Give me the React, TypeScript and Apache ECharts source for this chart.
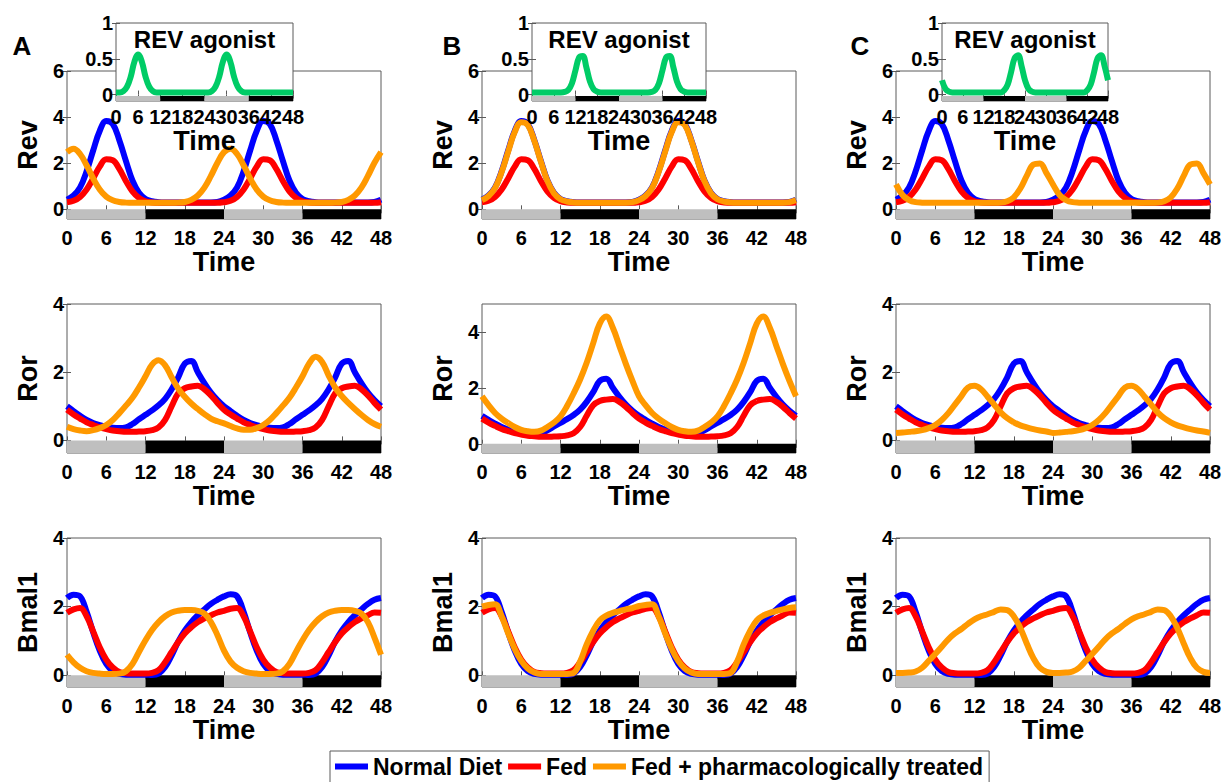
import React, { useEffect, useRef } from 'react';
import * as echarts from 'echarts';

// ---------- data ----------
const hours = [
  0, 1, 2, 3, 4, 5, 6, 7, 8, 9, 10, 11,
  12, 13, 14, 15, 16, 17, 18, 19, 20, 21, 22, 23,
  24, 25, 26, 27, 28, 29, 30, 31, 32, 33, 34, 35,
  36, 37, 38, 39, 40, 41, 42, 43, 44, 45, 46, 47,
  48,
];
// inset tick labels are split in two interleaved sets so that none is dropped
const insetLabelsEven = [0, 12, 24, 36, 48];
const insetLabelsOdd = [6, 18, 30, 42];
// [start, end, phase] phase 0 = light (grey), 1 = dark (black)
const lightDarkPhases = [
  [0, 12, 0],
  [12, 24, 1],
  [24, 36, 0],
  [36, 48, 1],
];
const seriesNames = ['Normal Diet', 'Fed', 'Fed + pharmacologically treated'];

// Rev
const revNormal = [
  0.42, 0.6, 0.95, 1.65, 2.55, 3.4, 3.83, 3.7, 3.0, 2.1, 1.25, 0.72,
  0.45, 0.35, 0.31, 0.3, 0.3, 0.3, 0.3, 0.3, 0.3, 0.3, 0.3, 0.32,
  0.42, 0.6, 0.95, 1.65, 2.55, 3.4, 3.83, 3.7, 3.0, 2.1, 1.25, 0.72,
  0.45, 0.35, 0.31, 0.3, 0.3, 0.3, 0.3, 0.3, 0.3, 0.3, 0.3, 0.32,
  0.42,
];
const revFed = [
  0.31, 0.37, 0.54, 0.86, 1.34, 1.85, 2.17, 2.13, 1.75, 1.23, 0.78, 0.5,
  0.35, 0.3, 0.28, 0.28, 0.28, 0.28, 0.28, 0.28, 0.28, 0.28, 0.28, 0.28,
  0.31, 0.37, 0.54, 0.86, 1.34, 1.85, 2.17, 2.13, 1.75, 1.23, 0.78, 0.5,
  0.35, 0.3, 0.28, 0.28, 0.28, 0.28, 0.28, 0.28, 0.28, 0.28, 0.28, 0.28,
  0.31,
];
const revTreatedA = [
  2.48, 2.63, 2.4, 1.91, 1.34, 0.86, 0.55, 0.39, 0.32, 0.29, 0.28, 0.28,
  0.28, 0.28, 0.28, 0.28, 0.28, 0.29, 0.32, 0.41, 0.6, 0.94, 1.45, 2.02,
  2.48, 2.63, 2.4, 1.91, 1.34, 0.86, 0.55, 0.39, 0.32, 0.29, 0.28, 0.28,
  0.28, 0.28, 0.28, 0.28, 0.28, 0.29, 0.32, 0.41, 0.6, 0.94, 1.45, 2.02,
  2.48,
];
const revTreatedB = [
  0.4, 0.58, 0.93, 1.62, 2.5, 3.35, 3.78, 3.66, 2.97, 2.07, 1.23, 0.7,
  0.44, 0.34, 0.3, 0.29, 0.29, 0.29, 0.29, 0.29, 0.29, 0.29, 0.29, 0.31,
  0.4, 0.58, 0.93, 1.62, 2.5, 3.35, 3.78, 3.66, 2.97, 2.07, 1.23, 0.7,
  0.44, 0.34, 0.3, 0.29, 0.29, 0.29, 0.29, 0.29, 0.29, 0.29, 0.29, 0.31,
  0.4,
];
const revTreatedC = [
  1.08, 0.62, 0.4, 0.31, 0.29, 0.28, 0.28, 0.28, 0.28, 0.28, 0.28, 0.28,
  0.28, 0.28, 0.28, 0.28, 0.29, 0.35, 0.52, 0.9, 1.46, 1.94, 1.99, 1.57,
  1.08, 0.62, 0.4, 0.31, 0.29, 0.28, 0.28, 0.28, 0.28, 0.28, 0.28, 0.28,
  0.28, 0.28, 0.28, 0.28, 0.29, 0.35, 0.52, 0.9, 1.46, 1.94, 1.99, 1.57,
  1.08,
];

// Ror
const rorNormal = [
  1.0, 0.86, 0.72, 0.6, 0.51, 0.45, 0.4, 0.37, 0.36, 0.38, 0.48, 0.62,
  0.75, 0.88, 1.03, 1.22, 1.5, 1.85, 2.25, 2.33, 2.0, 1.68, 1.4, 1.18,
  1.0, 0.86, 0.72, 0.6, 0.51, 0.45, 0.4, 0.37, 0.36, 0.38, 0.48, 0.62,
  0.75, 0.88, 1.03, 1.22, 1.5, 1.85, 2.25, 2.33, 2.0, 1.68, 1.4, 1.18,
  1.0,
];
const rorFed = [
  0.9, 0.76, 0.64, 0.53, 0.45, 0.38, 0.33, 0.29, 0.27, 0.25, 0.25, 0.26,
  0.27, 0.3, 0.38, 0.6, 1.0, 1.38, 1.53, 1.58, 1.6, 1.5, 1.32, 1.1,
  0.9, 0.76, 0.64, 0.53, 0.45, 0.38, 0.33, 0.29, 0.27, 0.25, 0.25, 0.26,
  0.27, 0.3, 0.38, 0.6, 1.0, 1.38, 1.53, 1.58, 1.6, 1.5, 1.32, 1.1,
  0.9,
];
const rorTreatedA = [
  0.4, 0.33, 0.29, 0.27, 0.3, 0.36, 0.45, 0.6, 0.8, 1.02, 1.25, 1.55,
  1.88, 2.22, 2.35, 2.2, 1.85, 1.52, 1.28, 1.08, 0.92, 0.77, 0.64, 0.56,
  0.5, 0.42, 0.35, 0.31, 0.31, 0.36, 0.45, 0.6, 0.8, 1.02, 1.25, 1.55,
  1.88, 2.25, 2.45, 2.3, 1.9, 1.55, 1.3, 1.1, 0.92, 0.75, 0.6, 0.48,
  0.4,
];
const rorTreatedB = [
  1.7, 1.38, 1.1, 0.9, 0.74, 0.6, 0.5, 0.45, 0.43, 0.47, 0.6, 0.76,
  0.98, 1.35, 1.8, 2.3, 2.9, 3.6, 4.3, 4.55, 4.15, 3.5, 2.85, 2.25,
  1.7, 1.38, 1.1, 0.9, 0.74, 0.6, 0.5, 0.45, 0.43, 0.47, 0.6, 0.76,
  0.98, 1.35, 1.8, 2.3, 2.9, 3.6, 4.3, 4.55, 4.15, 3.5, 2.85, 2.25,
  1.7,
];
const rorTreatedC = [
  0.22, 0.23, 0.25, 0.27, 0.3, 0.36, 0.45, 0.6, 0.8, 1.05, 1.3, 1.55,
  1.6, 1.5, 1.28, 1.05, 0.82, 0.65, 0.53, 0.44, 0.38, 0.33, 0.29, 0.26,
  0.22, 0.23, 0.25, 0.27, 0.3, 0.36, 0.45, 0.6, 0.8, 1.05, 1.3, 1.55,
  1.6, 1.5, 1.28, 1.05, 0.82, 0.65, 0.53, 0.44, 0.38, 0.33, 0.29, 0.26,
  0.22,
];

// Bmal1
const bmalNormal = [
  2.25, 2.35, 2.3, 1.85, 1.25, 0.72, 0.33, 0.12, 0.04, 0.02, 0.02, 0.02,
  0.02, 0.01, 0.05, 0.24, 0.58, 0.98, 1.3, 1.55, 1.75, 1.92, 2.08, 2.2,
  2.3, 2.36, 2.3, 1.85, 1.25, 0.72, 0.33, 0.12, 0.04, 0.02, 0.02, 0.02,
  0.02, 0.01, 0.05, 0.24, 0.58, 0.98, 1.3, 1.55, 1.75, 1.92, 2.08, 2.2,
  2.25,
];
const bmalFed = [
  1.82, 1.92, 1.96, 1.72, 1.28, 0.82, 0.46, 0.23, 0.1, 0.06, 0.05, 0.05,
  0.05, 0.07, 0.15, 0.38, 0.68, 0.97, 1.22, 1.4, 1.55, 1.66, 1.75, 1.83,
  1.88, 1.94, 1.96, 1.72, 1.28, 0.82, 0.46, 0.23, 0.1, 0.06, 0.05, 0.05,
  0.05, 0.07, 0.15, 0.38, 0.68, 0.97, 1.22, 1.4, 1.55, 1.66, 1.75, 1.83,
  1.82,
];
const bmalTreatedA = [
  0.6, 0.38, 0.22, 0.12, 0.07, 0.05, 0.04, 0.04, 0.05, 0.12, 0.33, 0.68,
  1.02, 1.32, 1.55, 1.72, 1.83, 1.88, 1.9, 1.9, 1.88, 1.8, 1.55, 1.17,
  0.72, 0.4, 0.22, 0.12, 0.07, 0.05, 0.04, 0.04, 0.05, 0.12, 0.33, 0.68,
  1.02, 1.32, 1.55, 1.72, 1.83, 1.88, 1.9, 1.9, 1.88, 1.8, 1.55, 1.1,
  0.6,
];
const bmalTreatedB = [
  2.0, 2.05, 2.07, 1.72, 1.22, 0.77, 0.42, 0.2, 0.08, 0.04, 0.04, 0.04,
  0.04, 0.04, 0.07, 0.4, 0.9, 1.3, 1.6, 1.74, 1.82, 1.87, 1.92, 1.96,
  2.02, 2.05, 2.07, 1.72, 1.22, 0.77, 0.42, 0.2, 0.08, 0.04, 0.04, 0.04,
  0.04, 0.04, 0.07, 0.4, 0.9, 1.3, 1.6, 1.74, 1.82, 1.87, 1.92, 1.96,
  1.98,
];
const bmalTreatedC = [
  0.07, 0.07, 0.08, 0.11, 0.22, 0.42, 0.62, 0.83, 1.05, 1.22, 1.35, 1.5,
  1.63, 1.72, 1.78, 1.85, 1.92, 1.9, 1.72, 1.38, 0.92, 0.5, 0.22, 0.1,
  0.07, 0.07, 0.08, 0.11, 0.22, 0.42, 0.62, 0.83, 1.05, 1.22, 1.35, 1.5,
  1.63, 1.72, 1.78, 1.85, 1.92, 1.9, 1.72, 1.38, 0.92, 0.5, 0.22, 0.1,
  0.07,
];

// REV agonist (insets)
const agonistA = [
  0.03, 0.03, 0.047, 0.11, 0.25, 0.46, 0.56, 0.46, 0.25, 0.11, 0.047, 0.03,
  0.03, 0.03, 0.03, 0.03, 0.03, 0.03, 0.03, 0.03, 0.03, 0.03, 0.03, 0.03,
  0.03, 0.03, 0.047, 0.11, 0.25, 0.46, 0.56, 0.46, 0.25, 0.11, 0.047, 0.03,
  0.03, 0.03, 0.03, 0.03, 0.03, 0.03, 0.03, 0.03, 0.03, 0.03, 0.03, 0.03,
  0.03,
];
const agonistB = [
  0.03, 0.03, 0.03, 0.03, 0.03, 0.03, 0.03, 0.03, 0.03, 0.036, 0.063, 0.155,
  0.34, 0.52, 0.54, 0.38, 0.18, 0.075, 0.04, 0.03, 0.03, 0.03, 0.03, 0.03,
  0.03, 0.03, 0.03, 0.03, 0.03, 0.03, 0.03, 0.03, 0.03, 0.036, 0.063, 0.155,
  0.34, 0.52, 0.54, 0.38, 0.18, 0.075, 0.04, 0.03, 0.03, 0.03, 0.03, 0.03,
  0.03,
];
const agonistC = [
  0.2, 0.08, 0.04, 0.03, 0.03, 0.03, 0.03, 0.03, 0.03, 0.03, 0.03, 0.03,
  0.03, 0.03, 0.03, 0.03, 0.03, 0.03, 0.06, 0.14, 0.32, 0.51, 0.55, 0.4,
  0.2, 0.08, 0.04, 0.03, 0.03, 0.03, 0.03, 0.03, 0.03, 0.03, 0.03, 0.03,
  0.03, 0.03, 0.03, 0.03, 0.03, 0.03, 0.06, 0.14, 0.32, 0.51, 0.55, 0.4,
  0.2,
];

// ---------- styling / layout ----------
const FONT = '"Liberation Sans", Arial, Helvetica, sans-serif';
const NARROW = '"Liberation Sans Narrow", "Liberation Sans", Arial, sans-serif';
const AX = '#5a5a5a';
const COLORS = ['#0000ff', '#ff0000', '#ff9900'];
const AGONIST_COLOR = '#00cc66';
const PHASE_COLORS = ['#bfbfbf', '#000000'];

const COLS = [
  { letter: 'A', left: 67, letterX: 22, insetLeft: 116, insetWidth: 177,
    rev: revTreatedA, ror: rorTreatedA, bmal: bmalTreatedA, agonist: agonistA, rorMax: 4, rorMin: -0.37 },
  { letter: 'B', left: 482, letterX: 452, insetLeft: 532, insetWidth: 174,
    rev: revTreatedB, ror: rorTreatedB, bmal: bmalTreatedB, agonist: agonistB, rorMax: 5, rorMin: -0.33 },
  { letter: 'C', left: 896, letterX: 860, insetLeft: 942, insetWidth: 166,
    rev: revTreatedC, ror: rorTreatedC, bmal: bmalTreatedC, agonist: agonistC, rorMax: 4, rorMin: -0.37 },
];

function pairs(v: number[]) {
  return hours.map((h, i) => [h, v[i]]);
}

function buildOption() {
  const grid: any[] = [];
  const xAxis: any[] = [];
  const yAxis: any[] = [];
  const series: any[] = [];
  const graphic: any[] = [];
  let gi = 0;

  const labelStyle = { fontSize: 20, fontWeight: 'bold', color: '#000', fontFamily: NARROW };
  const nameStyle = { fontSize: 27, fontWeight: 'bold', color: '#000', fontFamily: FONT };
  const tickStyle = { color: AX, width: 1 };

  function addPanel(p: any) {
    const inset = !!p.inset;
    grid.push({
      left: p.left, top: p.top, width: p.width, height: p.height,
      show: true, borderColor: AX, borderWidth: 1,
      backgroundColor: inset ? '#ffffff' : 'transparent',
      z: inset ? 5 : 0, containLabel: false, outerBoundsMode: 'none',
    });
    const az = inset ? 6 : 0;
    const xi = xAxis.length;
    const yi = yAxis.length;
    const bottomLabel: any = { show: true, showMinLabel: true, showMaxLabel: true, margin: p.labelMargin, hideOverlap: false, ...labelStyle };
    if (inset) bottomLabel.customValues = insetLabelsEven;
    xAxis.push({
      gridIndex: gi, type: 'value', min: 0, max: 48, interval: 6, position: 'bottom', z: az,
      axisLine: { show: false },
      axisTick: { show: true, inside: true, length: 4, lineStyle: tickStyle },
      axisLabel: bottomLabel,
      splitLine: { show: false },
      name: 'Time', nameLocation: 'middle', nameGap: p.xNameGap, nameTextStyle: nameStyle,
    });
    xAxis.push({
      gridIndex: gi, type: 'value', min: 0, max: 48, interval: 6, position: 'top', z: az,
      axisLine: { show: false },
      axisTick: { show: true, inside: true, length: 4, lineStyle: tickStyle },
      axisLabel: { show: false }, splitLine: { show: false },
    });
    if (inset) {
      xAxis.push({
        gridIndex: gi, type: 'value', min: 0, max: 48, position: 'bottom', z: az,
        axisLine: { show: false }, axisTick: { show: false },
        axisLabel: { show: true, customValues: insetLabelsOdd, margin: p.labelMargin, hideOverlap: false, ...labelStyle },
        splitLine: { show: false },
      });
    }
    yAxis.push({
      gridIndex: gi, type: 'value', min: p.min, max: p.max, position: 'left', z: az,
      axisLine: { show: false },
      axisTick: { show: true, inside: true, length: 4, customValues: p.ticks, lineStyle: tickStyle },
      axisLabel: { show: true, customValues: p.ticks, margin: 3, ...labelStyle },
      splitLine: { show: false },
      name: p.yName || '', nameLocation: 'middle', nameGap: 26, nameTextStyle: nameStyle,
    });
    yAxis.push({
      gridIndex: gi, type: 'value', min: p.min, max: p.max, position: 'right', z: az,
      axisLine: { show: false },
      axisTick: { show: true, inside: true, length: 4, customValues: p.ticks, lineStyle: tickStyle },
      axisLabel: { show: false }, splitLine: { show: false },
    });
    const ymin = p.min;
    const ytop = p.barTop;
    series.push({
      type: 'custom', name: 'light/dark', xAxisIndex: xi, yAxisIndex: yi, z: inset ? 7 : 1,
      silent: true, animation: false,
      data: lightDarkPhases,
      renderItem: (params: any, api: any) => {
        const a = api.coord([api.value(0), ymin]);
        const b = api.coord([api.value(1), ytop]);
        return {
          type: 'rect',
          shape: { x: a[0], y: b[1], width: b[0] - a[0], height: a[1] - b[1] },
          style: { fill: PHASE_COLORS[api.value(2)] },
        };
      },
    });
    p.lines.forEach((ln: any) => {
      series.push({
        type: 'line', name: ln.name, xAxisIndex: xi, yAxisIndex: yi,
        data: pairs(ln.data), showSymbol: false, symbol: 'none', smooth: 0.4,
        color: ln.color, lineStyle: { color: ln.color, width: 6 },
        silent: true, animation: false, z: inset ? 8 : 2,
        emphasis: { disabled: true },
      });
    });
    gi++;
  }

  const rows = [
    { key: 'rev', name: 'Rev', top: 71, height: 148, normal: revNormal, fed: revFed },
    { key: 'ror', name: 'Ror', top: 304, height: 149, normal: rorNormal, fed: rorFed },
    { key: 'bmal', name: 'Bmal1', top: 538, height: 149, normal: bmalNormal, fed: bmalFed },
  ];

  COLS.forEach((c) => {
    rows.forEach((r) => {
      let min = -0.34, max = 4, ticks = [0, 2, 4];
      if (r.key === 'rev') { min = -0.42; max = 6; ticks = [0, 2, 4, 6]; }
      if (r.key === 'ror') { min = c.rorMin; max = c.rorMax; }
      const treated = (c as any)[r.key];
      addPanel({
        left: c.left, top: r.top, width: 314, height: r.height,
        min, max, ticks, barTop: 0, yName: r.name,
        labelMargin: 9, xNameGap: 25,
        lines: [
          { name: seriesNames[0], color: COLORS[0], data: r.normal },
          { name: seriesNames[1], color: COLORS[1], data: r.fed },
          { name: seriesNames[2], color: COLORS[2], data: treated },
        ],
      });
    });
  });

  COLS.forEach((c) => {
    addPanel({
      inset: true,
      left: c.insetLeft, top: 23, width: c.insetWidth, height: 78,
      min: -0.09, max: 1, ticks: [0, 0.5, 1], barTop: -0.02, yName: '',
      labelMargin: 6, xNameGap: 21,
      lines: [{ name: 'REV agonist', color: AGONIST_COLOR, data: c.agonist }],
    });
    graphic.push({
      type: 'text', x: c.insetLeft + c.insetWidth / 2, y: 39, z: 20,
      style: {
        text: 'REV agonist', fontSize: 24, fontWeight: 'bold', fontFamily: FONT, fill: '#000',
        align: 'center', verticalAlign: 'middle', textAlign: 'center', textVerticalAlign: 'middle',
      },
    });
    graphic.push({
      type: 'text', x: c.letterX, y: 46, z: 20,
      style: {
        text: c.letter, fontSize: 26, fontWeight: 'bold', fontFamily: FONT, fill: '#000',
        align: 'center', verticalAlign: 'middle', textAlign: 'center', textVerticalAlign: 'middle',
      },
    });
  });

  return {
    animation: false,
    backgroundColor: '#ffffff',
    grid, xAxis, yAxis, series, graphic,
    legend: {
      data: seriesNames,
      left: 330, top: 751,
      orient: 'horizontal',
      icon: 'rect', itemWidth: 33, itemHeight: 6, itemGap: 6,
      selectedMode: false,
      textStyle: { fontSize: 23, fontWeight: 'bold', color: '#000', fontFamily: FONT },
      borderColor: AX, borderWidth: 1, padding: [4, 6, 12, 5],
      backgroundColor: '#ffffff',
    },
  };
}

export default function App() {
  const ref = useRef<HTMLDivElement>(null);
  useEffect(() => {
    const chart = echarts.init(ref.current as HTMLDivElement, null, { renderer: 'svg' });
    chart.setOption(buildOption() as any);
    return () => chart.dispose();
  }, []);
  return (
    <div
      ref={ref}
      style={{ position: 'fixed', left: 0, top: 0, width: 1227, height: 782, background: '#fff' }}
    />
  );
}
